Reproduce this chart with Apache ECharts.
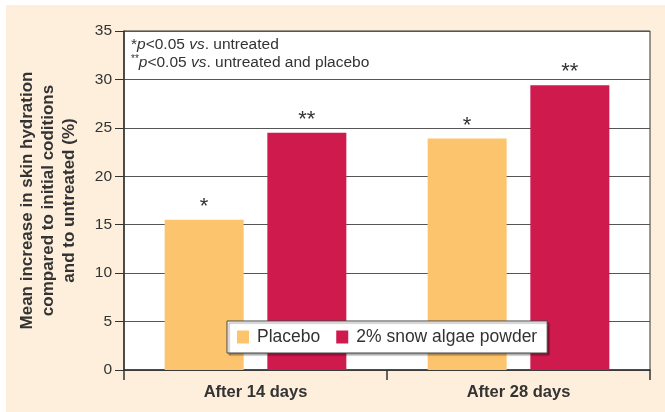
<!DOCTYPE html>
<html>
<head>
<meta charset="utf-8">
<script src="https://cdn.jsdelivr.net/npm/echarts@6/dist/echarts.min.js"></script>
<style>
  html, body { margin: 0; padding: 0; background: #fff; }
  #chart { width: 665px; height: 412px; }
</style>
</head>
<body>
<div id="chart"></div>
<script>
// 数据
var categories = ['After 14 days', 'After 28 days'];
var seriesNames = ['Placebo', '2% snow algae powder'];
var placebo = [15.5, 23.9];
var algae = [24.5, 29.4];
var placeboMarks = ['*', '*'];
var algaeMarks = ['**', '**'];
var yAxisTitle = ['Mean increase in skin hydration', 'compared to initial coditions', 'and to untreated (%)'];

var font = 'Liberation Sans, Arial, sans-serif';
var ink = '#333';

var myChart = echarts.init(document.getElementById('chart'));

function markLabel(marks) {
  return {
    show: true,
    position: 'top',
    distance: 2,
    fontSize: 22,
    fontFamily: font,
    color: ink,
    formatter: function (p) { return marks[p.dataIndex]; }
  };
}

myChart.setOption({
  backgroundColor: '#fff',
  animation: false,
  textStyle: { fontFamily: font },
  graphic: [
    {
      type: 'rect',
      z: -10,
      silent: true,
      shape: { x: 6, y: 5, width: 659, height: 407 },
      style: { fill: '#fdefdc' }
    },
    {
      type: 'text',
      left: 131,
      top: 36,
      z: 10,
      style: {
        text: '*{it|p}<0.05 {it|vs}. untreated\n{sup|**}{it|p}<0.05 {it|vs}. untreated and placebo',
        fontSize: 15.5,
        fontFamily: font,
        fill: ink,
        lineHeight: 18,
        rich: {
          it: { fontStyle: 'italic', fontSize: 15.5, fontFamily: font, fill: ink },
          sup: { fontSize: 10, fontFamily: font, fill: ink, verticalAlign: 'top', padding: [0, 0, 6, 0] }
        }
      }
    }
  ],
  grid: {
    left: 124,
    right: 15,
    top: 31,
    bottom: 42,
    show: true,
    backgroundColor: '#fff',
    borderColor: ink,
    borderWidth: 1
  },
  legend: {
    data: seriesNames,
    left: 227,
    top: 321,
    itemWidth: 12,
    itemHeight: 13,
    itemGap: 16,
    icon: 'rect',
    backgroundColor: '#fff',
    borderColor: '#444',
    borderWidth: 1,
    padding: [7, 10, 7, 10],
    shadowColor: 'rgba(0,0,0,0.35)',
    shadowOffsetX: 2,
    shadowOffsetY: 2,
    shadowBlur: 1,
    textStyle: { fontSize: 17.5, color: ink, fontFamily: font, padding: [0, 0, 0, 3] }
  },
  xAxis: {
    type: 'category',
    data: categories,
    axisLine: { lineStyle: { color: ink, width: 1.5 } },
    axisTick: { show: true, length: 10, lineStyle: { color: ink, width: 1.5 } },
    axisLabel: { fontSize: 16.5, fontWeight: 'bold', color: ink, margin: 14 }
  },
  yAxis: {
    type: 'value',
    min: 0,
    max: 35,
    interval: 5,
    name: yAxisTitle.join('\n'),
    nameLocation: 'middle',
    nameGap: 44,
    nameTextStyle: { fontSize: 17, fontWeight: 'bold', color: ink, lineHeight: 21, align: 'center' },
    axisLine: { show: true, lineStyle: { color: ink, width: 1.5 } },
    axisTick: { show: true, length: 9, lineStyle: { color: ink } },
    axisLabel: { fontSize: 15.5, color: ink, margin: 12 },
    splitLine: { show: true, lineStyle: { color: '#555', width: 1 } }
  },
  series: [
    {
      name: seriesNames[0],
      type: 'bar',
      data: placebo,
      barWidth: 79,
      barGap: '30%',
      itemStyle: { color: '#fdc46e' },
      label: markLabel(placeboMarks)
    },
    {
      name: seriesNames[1],
      type: 'bar',
      data: algae,
      barWidth: 79,
      itemStyle: { color: '#cf1a4e' },
      label: markLabel(algaeMarks)
    }
  ]
});

window.onresize = function () { myChart.resize(); };
</script>
</body>
</html>
